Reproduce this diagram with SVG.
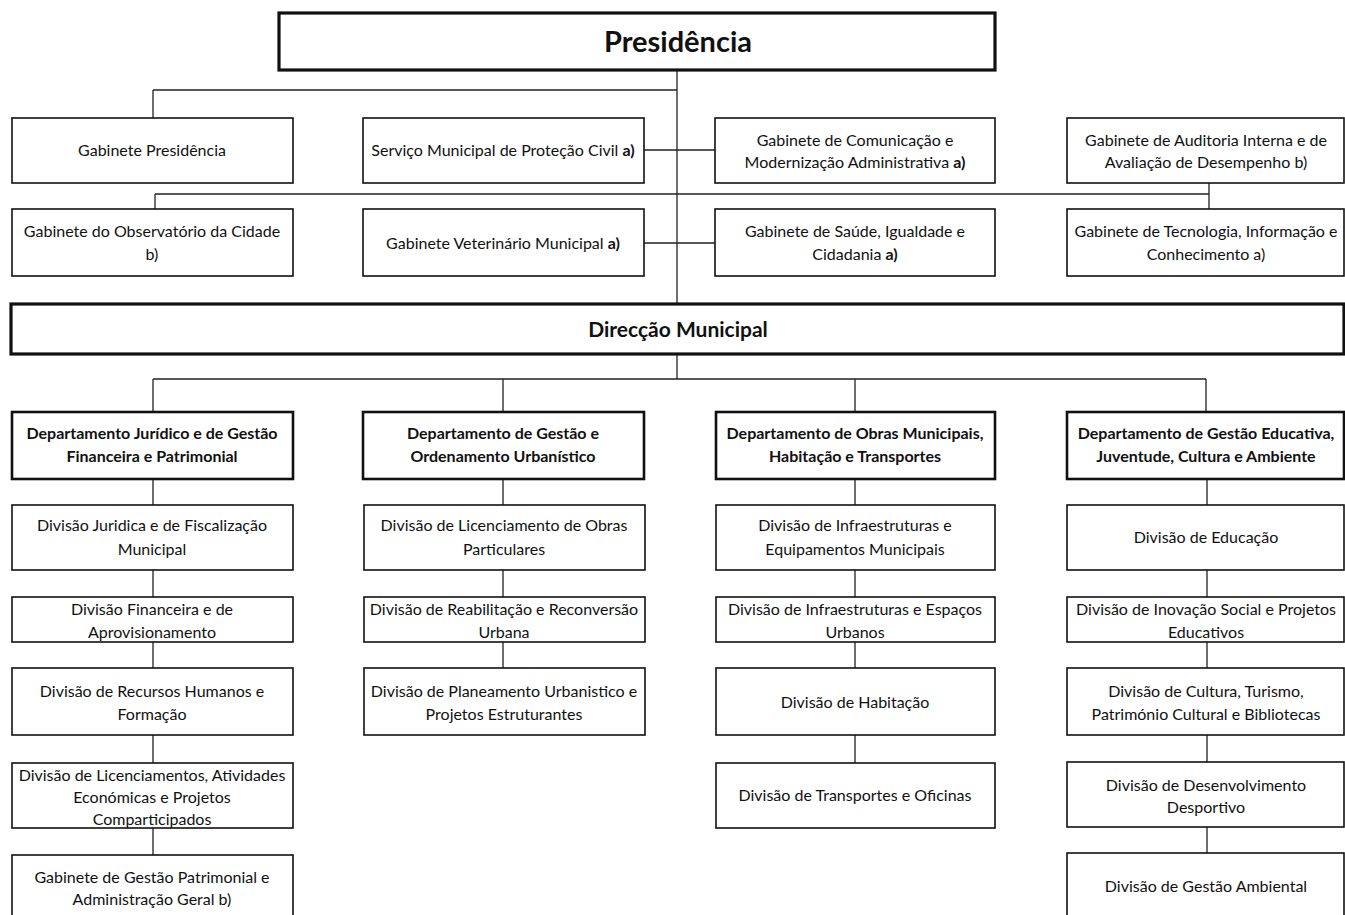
<svg xmlns="http://www.w3.org/2000/svg" width="1345" height="915" viewBox="0 0 1345 915">
<style>
.b{fill:#fff;stroke:#111;stroke-width:1.6}
.d{fill:#fff;stroke:#111;stroke-width:2.6}
.h{fill:#fff;stroke:#111;stroke-width:3.2}
.c{fill:none;stroke:#222;stroke-width:1.3}
text{font-family:Lato,"Open Sans","Liberation Sans",sans-serif;font-size:16px;fill:#111;text-anchor:middle}
.bt{font-weight:bold}
.t1{font-weight:bold;font-size:29px}
.t2{font-weight:bold;font-size:21px}
</style>
<rect width="1345" height="915" fill="#fff"/>
<g id="connectors">
<path class="c" d="M677 70V304M153 90H677M153 90V118M644 150H715M155 194H1209M155 194V209M1209 183V209M644 243H715"/>
<path class="c" d="M677 354V379M153 379H1206M153 379V412M503 379V412M855 379V412M1206 379V412"/>
<path class="c" d="M153 479V505M153 570V597M153 642V668M153 735V763M153 828V855"/>
<path class="c" d="M503 479V505M503 570V597M503 642V668"/>
<path class="c" d="M855 479V505M855 570V597M855 642V668M855 735V763"/>
<path class="c" d="M1207 479V505M1207 570V597M1207 642V668M1207 735V762M1207 827V853"/>
</g>
<g id="presidencia"><rect class="h" x="279" y="13" width="716" height="57"/><text class="t1" x="678" y="52">Presidência</text></g>
<g id="gab-presidencia"><rect class="b" x="12" y="118" width="281" height="65"/><text x="152" y="156">Gabinete Presidência</text></g>
<g id="protecao-civil"><rect class="b" x="363" y="118" width="281" height="65"/><text x="503" y="156">Serviço Municipal de Proteção Civil <tspan class="bt">a)</tspan></text></g>
<g id="comunicacao"><rect class="b" x="715" y="118" width="280" height="65"/><text x="855" y="146">Gabinete de Comunicação e</text><text x="855" y="168">Modernização Administrativa <tspan class="bt">a)</tspan></text></g>
<g id="auditoria"><rect class="b" x="1067" y="118" width="277" height="65"/><text x="1206" y="146">Gabinete de Auditoria Interna e de</text><text x="1206" y="168">Avaliação de Desempenho b)</text></g>
<g id="observatorio"><rect class="b" x="12" y="209" width="281" height="67"/><text x="152" y="237">Gabinete do Observatório da Cidade</text><text x="152" y="260">b)</text></g>
<g id="veterinario"><rect class="b" x="363" y="209" width="281" height="67"/><text x="503" y="249">Gabinete Veterinário Municipal <tspan class="bt">a)</tspan></text></g>
<g id="saude"><rect class="b" x="715" y="209" width="280" height="67"/><text x="855" y="237">Gabinete de Saúde, Igualdade e</text><text x="855" y="260">Cidadania <tspan class="bt">a)</tspan></text></g>
<g id="tecnologia"><rect class="b" x="1067" y="209" width="277" height="67"/><text x="1206" y="237">Gabinete de Tecnologia, Informação e</text><text x="1206" y="260">Conhecimento a)</text></g>
<g id="direccao"><rect class="h" x="11" y="304" width="1333" height="50"/><text class="t2" x="678" y="337">Direcção Municipal</text></g>
<g id="dep-juridico"><rect class="d" x="12" y="412" width="281" height="67"/><text class="bt" x="152" y="439">Departamento Jurídico e de Gestão</text><text class="bt" x="152" y="462">Financeira e Patrimonial</text></g>
<g id="dep-urbanistico"><rect class="d" x="363" y="412" width="281" height="67"/><text class="bt" x="503" y="439">Departamento de Gestão e</text><text class="bt" x="503" y="462">Ordenamento Urbanístico</text></g>
<g id="dep-obras"><rect class="d" x="716" y="412" width="279" height="67"/><text class="bt" x="855" y="439">Departamento de Obras Municipais,</text><text class="bt" x="855" y="462">Habitação e Transportes</text></g>
<g id="dep-educativa"><rect class="d" x="1067" y="412" width="277" height="67"/><text class="bt" x="1206" y="439">Departamento de Gestão Educativa,</text><text class="bt" x="1206" y="462">Juventude, Cultura e Ambiente</text></g>
<g id="div-juridica"><rect class="b" x="12" y="505" width="281" height="65"/><text x="152" y="531">Divisão Juridica e de Fiscalização</text><text x="152" y="555">Municipal</text></g>
<g id="div-financeira"><rect class="b" x="12" y="597" width="281" height="45"/><text x="152" y="615">Divisão Financeira e de</text><text x="152" y="638">Aprovisionamento</text></g>
<g id="div-rh"><rect class="b" x="12" y="668" width="281" height="67"/><text x="152" y="697">Divisão de Recursos Humanos e</text><text x="152" y="720">Formação</text></g>
<g id="div-licenciamentos"><rect class="b" x="12" y="763" width="281" height="65"/><text x="152" y="781">Divisão de Licenciamentos, Atividades</text><text x="152" y="803">Económicas e Projetos</text><text x="152" y="825">Comparticipados</text></g>
<g id="gab-patrimonial"><rect class="b" x="12" y="855" width="281" height="62"/><text x="152" y="883">Gabinete de Gestão Patrimonial e</text><text x="152" y="905">Administração Geral b)</text></g>
<g id="div-obras-particulares"><rect class="b" x="364" y="505" width="281" height="65"/><text x="504" y="531">Divisão de Licenciamento de Obras</text><text x="504" y="555">Particulares</text></g>
<g id="div-reabilitacao"><rect class="b" x="364" y="597" width="281" height="45"/><text x="504" y="615">Divisão de Reabilitação e Reconversão</text><text x="504" y="638">Urbana</text></g>
<g id="div-planeamento"><rect class="b" x="364" y="668" width="281" height="67"/><text x="504" y="697">Divisão de Planeamento Urbanistico e</text><text x="504" y="720">Projetos Estruturantes</text></g>
<g id="div-infra-equip"><rect class="b" x="716" y="505" width="279" height="65"/><text x="855" y="531">Divisão de Infraestruturas e</text><text x="855" y="555">Equipamentos Municipais</text></g>
<g id="div-infra-espacos"><rect class="b" x="716" y="597" width="279" height="45"/><text x="855" y="615">Divisão de Infraestruturas e Espaços</text><text x="855" y="638">Urbanos</text></g>
<g id="div-habitacao"><rect class="b" x="716" y="668" width="279" height="67"/><text x="855" y="708">Divisão de Habitação</text></g>
<g id="div-transportes"><rect class="b" x="716" y="763" width="279" height="65"/><text x="855" y="801">Divisão de Transportes e Oficinas</text></g>
<g id="div-educacao"><rect class="b" x="1067" y="505" width="277" height="65"/><text x="1206" y="543">Divisão de Educação</text></g>
<g id="div-inovacao"><rect class="b" x="1067" y="597" width="277" height="45"/><text x="1206" y="615">Divisão de Inovação Social e Projetos</text><text x="1206" y="638">Educativos</text></g>
<g id="div-cultura"><rect class="b" x="1067" y="668" width="277" height="67"/><text x="1206" y="697">Divisão de Cultura, Turismo,</text><text x="1206" y="720">Património Cultural e Bibliotecas</text></g>
<g id="div-desporto"><rect class="b" x="1067" y="762" width="277" height="65"/><text x="1206" y="791">Divisão de Desenvolvimento</text><text x="1206" y="813">Desportivo</text></g>
<g id="div-ambiental"><rect class="b" x="1067" y="853" width="277" height="64"/><text x="1206" y="892">Divisão de Gestão Ambiental</text></g>
</svg>
